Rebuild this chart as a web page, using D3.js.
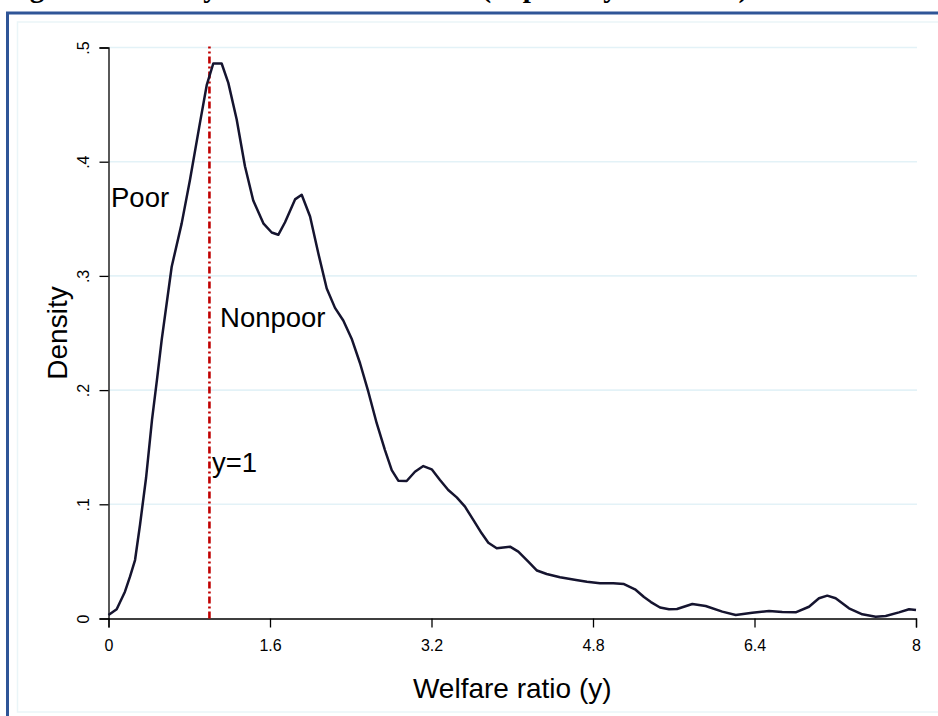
<!DOCTYPE html>
<html>
<head>
<meta charset="utf-8">
<script src="https://cdn.jsdelivr.net/npm/d3@7"></script>
<style>
  html, body { margin: 0; padding: 0; background: #fff; overflow: hidden; }
  svg { display: block; }
</style>
</head>
<body>
<script>
// welfare ratio (x) and kernel density (y)
const welfareRatio = [0.00, 0.081, 0.163, 0.213, 0.263, 0.312, 0.372, 0.431, 0.480, 0.527,
  0.626, 0.725, 0.807, 0.906, 0.973, 1.038, 1.121, 1.187, 1.270, 1.352,
  1.434, 1.534, 1.617, 1.682, 1.749, 1.848, 1.914, 1.997, 2.078, 2.162,
  2.244, 2.326, 2.409, 2.492, 2.574, 2.657, 2.739, 2.806, 2.871, 2.954,
  3.036, 3.119, 3.202, 3.284, 3.366, 3.450, 3.532, 3.614, 3.697, 3.763,
  3.846, 3.978, 4.060, 4.159, 4.245, 4.341, 4.473, 4.632, 4.740, 4.869,
  5.001, 5.107, 5.216, 5.305, 5.374, 5.464, 5.553, 5.632, 5.784, 5.916,
  6.081, 6.214, 6.378, 6.544, 6.675, 6.808, 6.940, 7.039, 7.121, 7.204,
  7.336, 7.468, 7.601, 7.700, 7.831, 7.931, 8.00];
const density = [0.0031, 0.0081, 0.0235, 0.0366, 0.0512, 0.0819, 0.123, 0.174, 0.209, 0.244,
  0.308, 0.346, 0.384, 0.434, 0.467, 0.486, 0.486, 0.469, 0.437, 0.396,
  0.366, 0.346, 0.338, 0.336, 0.347, 0.367, 0.371, 0.352, 0.320, 0.289,
  0.272, 0.261, 0.245, 0.2235, 0.1986, 0.171, 0.1475, 0.130, 0.1207, 0.1204,
  0.1285, 0.1335, 0.1306, 0.1213, 0.1125, 0.1061, 0.0979, 0.0863, 0.0746, 0.0664,
  0.0615, 0.0629, 0.0585, 0.0497, 0.042, 0.039, 0.0361, 0.0337, 0.0322, 0.0308,
  0.0308, 0.0302, 0.0256, 0.0188, 0.0144, 0.0096, 0.0081, 0.0083, 0.0127, 0.0109,
  0.006, 0.0031, 0.0051, 0.0066, 0.0057, 0.0054, 0.0103, 0.0177, 0.020, 0.0177,
  0.0089, 0.0037, 0.0016, 0.0022, 0.0054, 0.0081, 0.0074];

const xTicks = [0, 1.6, 3.2, 4.8, 6.4, 8];
const yTicks = [0, 0.1, 0.2, 0.3, 0.4, 0.5];
const povertyLine = 1;

const labels = [
  { text: "Poor", x: 0.025, y: 0.36 },
  { text: "Nonpoor", x: 1.105, y: 0.2555 },
  { text: "y=1", x: 1.025, y: 0.128 }
];

const W = 938, H = 716;
const sans = "'Liberation Sans', Arial, sans-serif";

const svg = d3.select("body").append("svg")
  .attr("width", W)
  .attr("height", H);

svg.append("rect").attr("width", W).attr("height", H).attr("fill", "#fff");

// caption, only its lower edge is left inside the picture
svg.append("text")
  .attr("x", 4)
  .attr("y", -3)
  .attr("font-family", "'Liberation Serif', 'Times New Roman', serif")
  .attr("font-weight", "bold")
  .attr("font-size", 29)
  .attr("fill", "#000")
  .text("Figure 1: Density of the Welfare Ratio (in poverty line units)");

// outer blue frame + faint inner frame (right side runs past the picture)
svg.append("rect")
  .attr("x", 7.5).attr("y", 13)
  .attr("width", W + 100).attr("height", H + 100)
  .attr("fill", "none")
  .attr("stroke", "#2f5597")
  .attr("stroke-width", 3);

svg.append("rect")
  .attr("x", 17.5).attr("y", 22)
  .attr("width", W + 100).attr("height", 690)
  .attr("fill", "none")
  .attr("stroke", "#eaf5f8")
  .attr("stroke-width", 1.5);

const x = d3.scaleLinear().domain([0, 8]).range([108.5, 916]);
const y = d3.scaleLinear().domain([0, 0.5]).range([618.5, 47.5]);

// gridlines
svg.append("g")
  .selectAll("line")
  .data(yTicks.filter(d => d > 0))
  .join("line")
  .attr("x1", x(0))
  .attr("x2", x(8) + 1)
  .attr("y1", d => y(d))
  .attr("y2", d => y(d))
  .attr("stroke", "#e3f2f7")
  .attr("stroke-width", 1.6);

// y axis
const yAxis = svg.append("g")
  .attr("transform", `translate(${x(0)},0)`)
  .call(d3.axisLeft(y)
    .tickValues(yTicks)
    .tickSize(9)
    .tickFormat(d => d === 0 ? "0" : d3.format(".1f")(d).replace(/^0/, "")));

yAxis.select(".domain").attr("stroke", "#000").attr("stroke-width", 1.3);
yAxis.selectAll(".tick line").attr("stroke", "#000").attr("stroke-width", 1.3);
yAxis.selectAll(".tick text")
  .attr("x", null)
  .attr("dy", null)
  .attr("transform", "translate(-20,0) rotate(-90)")
  .attr("text-anchor", "middle")
  .attr("font-family", sans)
  .attr("font-size", 16)
  .attr("fill", "#000");

// x axis
const xAxis = svg.append("g")
  .attr("transform", `translate(0,${y(0)})`)
  .call(d3.axisBottom(x)
    .tickValues(xTicks)
    .tickSize(9)
    .tickFormat(d => String(d)));

xAxis.select(".domain").attr("stroke", "#000").attr("stroke-width", 1.3);
xAxis.selectAll(".tick line").attr("stroke", "#000").attr("stroke-width", 1.3);
xAxis.selectAll(".tick text")
  .attr("y", 32.5)
  .attr("dy", null)
  .attr("font-family", sans)
  .attr("font-size", 16)
  .attr("fill", "#000");

// axis titles
svg.append("text")
  .attr("x", (x(0) + x(8)) / 2)
  .attr("y", 697.5)
  .attr("text-anchor", "middle")
  .attr("font-family", sans)
  .attr("font-size", 28)
  .attr("fill", "#000")
  .text("Welfare ratio (y)");

svg.append("text")
  .attr("transform", `translate(67,${(y(0) + y(0.5)) / 2}) rotate(-90)`)
  .attr("text-anchor", "middle")
  .attr("font-family", sans)
  .attr("font-size", 28)
  .attr("fill", "#000")
  .text("Density");

// poverty line
svg.append("line")
  .attr("x1", x(povertyLine))
  .attr("x2", x(povertyLine))
  .attr("y1", y(0))
  .attr("y2", y(0.5) - 1)
  .attr("stroke", "#c00000")
  .attr("stroke-width", 2.6)
  .attr("stroke-dasharray", "7,3,2,3");

// density curve
const pts = welfareRatio.map((d, i) => [d, density[i]]);
const line = d3.line()
  .x(d => x(d[0]))
  .y(d => y(d[1]))
  .curve(d3.curveLinear);

svg.append("path")
  .datum(pts)
  .attr("fill", "none")
  .attr("stroke", "#15142f")
  .attr("stroke-width", 2.5)
  .attr("stroke-linejoin", "round")
  .attr("d", line);

// annotations
svg.append("g")
  .selectAll("text")
  .data(labels)
  .join("text")
  .attr("x", d => x(d.x))
  .attr("y", d => y(d.y))
  .attr("font-family", sans)
  .attr("font-size", 27.5)
  .attr("fill", "#000")
  .text(d => d.text);
</script>
</body>
</html>
